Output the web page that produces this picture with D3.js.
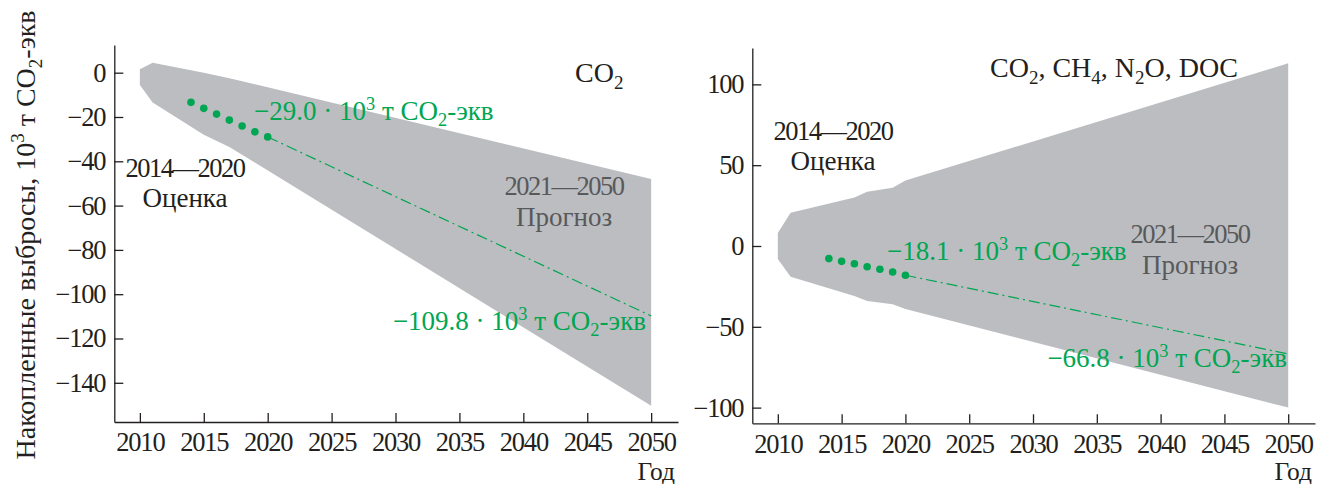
<!DOCTYPE html>
<html lang="ru">
<head>
<meta charset="UTF-8">
<title>Накопленные выбросы</title>
<script src="https://d3js.org/d3.v7.min.js"></script>
<style>
  body { margin: 0; background: #fff; }
  svg { display: block; font-family: "Liberation Serif", "Times New Roman", serif; }
  .axis path, .axis line { stroke: #231f20; stroke-width: 1.3; }
  .axis text { font-size: 26.5px; letter-spacing: -1.2px; fill: #231f20; }
  .digits { letter-spacing: -1.5px; }
</style>
</head>
<body>
<svg id="mainsvg" width="1317" height="484"></svg>
<script>
// ---- data ----
const years = [2010, 2015, 2020, 2025, 2030, 2035, 2040, 2045, 2050];
const obsYears = [2014, 2015, 2016, 2017, 2018, 2019, 2020];
const projYears = [2020, 2050];

// left panel: CO2
const co2Dots = [-13.4, -16.1, -18.7, -21.4, -24.1, -26.7, -29.0];
const co2Proj = [-29.0, -109.8];
const co2BandYears = [2010, 2011, 2015, 2017, 2050];
const co2BandUpper = [1.5, 4.5, 0, -2.5, -48];
const co2BandLower = [-5.6, -13.5, -28, -33.5, -150.4];
const co2Ticks = [0, -20, -40, -60, -80, -100, -120, -140];

// right panel: all gases
const allDots = [-7.8, -9.5, -11.0, -12.8, -14.4, -16.1, -18.1];
const allProj = [-18.1, -66.8];
const allBandYears = [2010, 2011, 2016, 2017, 2019, 2020, 2050];
const allBandUpper = [8, 20.5, 30, 33.5, 36, 40.5, 113];
const allBandLower = [-8, -19, -31, -34, -36, -39, -100];
const allTicks = [100, 50, 0, -50, -100];

const green = "#00a651", band = "#bcbdc1", grayText = "#58595b", ink = "#231f20";
const fs = 27;
const serif = "Liberation Serif";

const svg = d3.select("#mainsvg");

// rich text with sup/sub pieces
function rich(g, x, y, parts, opts) {
  const size = opts.size || fs;
  const t = g.append("text")
    .attr("x", x).attr("y", y)
    .attr("font-family", serif)
    .attr("font-size", size)
    .attr("fill", opts.fill || ink)
    .attr("text-anchor", opts.anchor || "start");
  if (opts.transform) t.attr("transform", opts.transform);
  let shift = 0;
  parts.forEach(([s, kind]) => {
    let target = 0;
    if (kind === "sup") target = -size * 0.38;
    if (kind === "sub") target = size * 0.24;
    const ts = t.append("tspan").text(s).attr("dy", target - shift);
    if (kind) ts.attr("font-size", size * 0.68);
    shift = target;
  });
  return t;
}

const co2eq = (num) => [[num + " · 10"], ["3", "sup"], [" т CO"], ["2", "sub"], ["-экв"]];

function panel(cfg) {
  const g = svg.append("g");
  const x = d3.scaleLinear().domain([2008, 2052.1]).range(cfg.xRange);
  const y = d3.scaleLinear().domain(cfg.yDomain).range(cfg.yRange);

  // shaded uncertainty band
  const bandData = cfg.bandYears.map((yr, i) => ({ yr, lo: cfg.lower[i], hi: cfg.upper[i] }));
  g.append("path").datum(bandData)
    .attr("fill", band)
    .attr("d", d3.area().x(d => x(d.yr)).y0(d => y(d.lo)).y1(d => y(d.hi)));

  // projection line
  g.append("path").datum(projYears.map((yr, i) => [yr, cfg.proj[i]]))
    .attr("fill", "none").attr("stroke", green).attr("stroke-width", 1.2)
    .attr("stroke-dasharray", "11,4,2,4")
    .attr("d", d3.line().x(d => x(d[0])).y(d => y(d[1])));

  // observed dots
  g.selectAll("circle.dot").data(obsYears.map((yr, i) => [yr, cfg.dots[i]]))
    .join("circle").attr("class", "dot")
    .attr("cx", d => x(d[0])).attr("cy", d => y(d[1])).attr("r", 3.8)
    .attr("fill", green);

  // axes
  const xAxis = d3.axisBottom(x).tickValues(years).tickFormat(d3.format("d"))
    .tickSize(-9).tickSizeOuter(0).tickPadding(10.5);
  const yAxis = d3.axisLeft(y).tickValues(cfg.ticks)
    .tickSize(-9).tickSizeOuter(0).tickPadding(9);
  g.append("g").attr("class", "axis").attr("transform", `translate(0,${cfg.yRange[0]})`).call(xAxis)
    .attr("font-family", serif).attr("font-size", 26.5);
  g.append("g").attr("class", "axis").attr("transform", `translate(${cfg.xRange[0]},0)`).call(yAxis)
    .attr("font-family", serif).attr("font-size", 26.5);
  g.selectAll(".axis .domain").attr("fill", "none");

  g.append("text").attr("x", cfg.xRange[1] - 3).attr("y", 479.5)
    .attr("text-anchor", "end").attr("font-family", serif).attr("font-size", 25.5)
    .attr("fill", ink).text("Год");

  // annotations
  const a = cfg.ann;
  rich(g, a.title[0], a.title[1], cfg.title, { size: 28 });
  g.append("text").attr("class", "digits").attr("x", a.obs[0]).attr("y", a.obs[1]).attr("text-anchor", "middle")
    .attr("font-family", serif).attr("font-size", 26.5).attr("fill", ink).text("2014—2020");
  g.append("text").attr("x", a.obs[0]).attr("y", a.obs[1] + 30).attr("text-anchor", "middle")
    .attr("font-family", serif).attr("font-size", fs).attr("fill", ink).text("Оценка");
  g.append("text").attr("class", "digits").attr("x", a.fc[0]).attr("y", a.fc[1]).attr("text-anchor", "middle")
    .attr("font-family", serif).attr("font-size", 26.5).attr("fill", grayText).text("2021—2050");
  g.append("text").attr("x", a.fc[0]).attr("y", a.fc[1] + 31).attr("text-anchor", "middle")
    .attr("font-family", serif).attr("font-size", fs).attr("fill", grayText).text("Прогноз");
  rich(g, a.v1[0], a.v1[1], co2eq(cfg.v1), { fill: green });
  rich(g, a.v2[0], a.v2[1], co2eq(cfg.v2), { fill: green, anchor: "end" });
}

panel({
  xRange: [114.3, 678], yRange: [422, 45], yDomain: [-157.7, 12.5],
  bandYears: co2BandYears, upper: co2BandUpper, lower: co2BandLower,
  dots: co2Dots, proj: co2Proj, ticks: co2Ticks,
  title: [["CO"], ["2", "sub"]],
  v1: "−29.0", v2: "−109.8",
  ann: { title: [575, 82], obs: [185, 177], fc: [564, 195], v1: [254, 120], v2: [646, 330] }
});

panel({
  xRange: [752.3, 1315], yRange: [423.3, 48], yDomain: [-109.7, 122.5],
  bandYears: allBandYears, upper: allBandUpper, lower: allBandLower,
  dots: allDots, proj: allProj, ticks: allTicks,
  title: [["CO"], ["2", "sub"], [", CH"], ["4", "sub"], [", N"], ["2", "sub"], ["O, DOC"]],
  v1: "−18.1", v2: "−66.8",
  ann: { title: [990, 77], obs: [833, 140], fc: [1190, 243], v1: [887, 260], v2: [1287, 367] }
});

// shared y-axis title
rich(svg, 0, 0, [["Накопленные выбросы, 10"], ["3", "sup"], [" т CO"], ["2", "sub"], ["-экв"]],
  { anchor: "middle", size: 28, transform: "translate(35,235) rotate(-90)" });
</script>
</body>
</html>
